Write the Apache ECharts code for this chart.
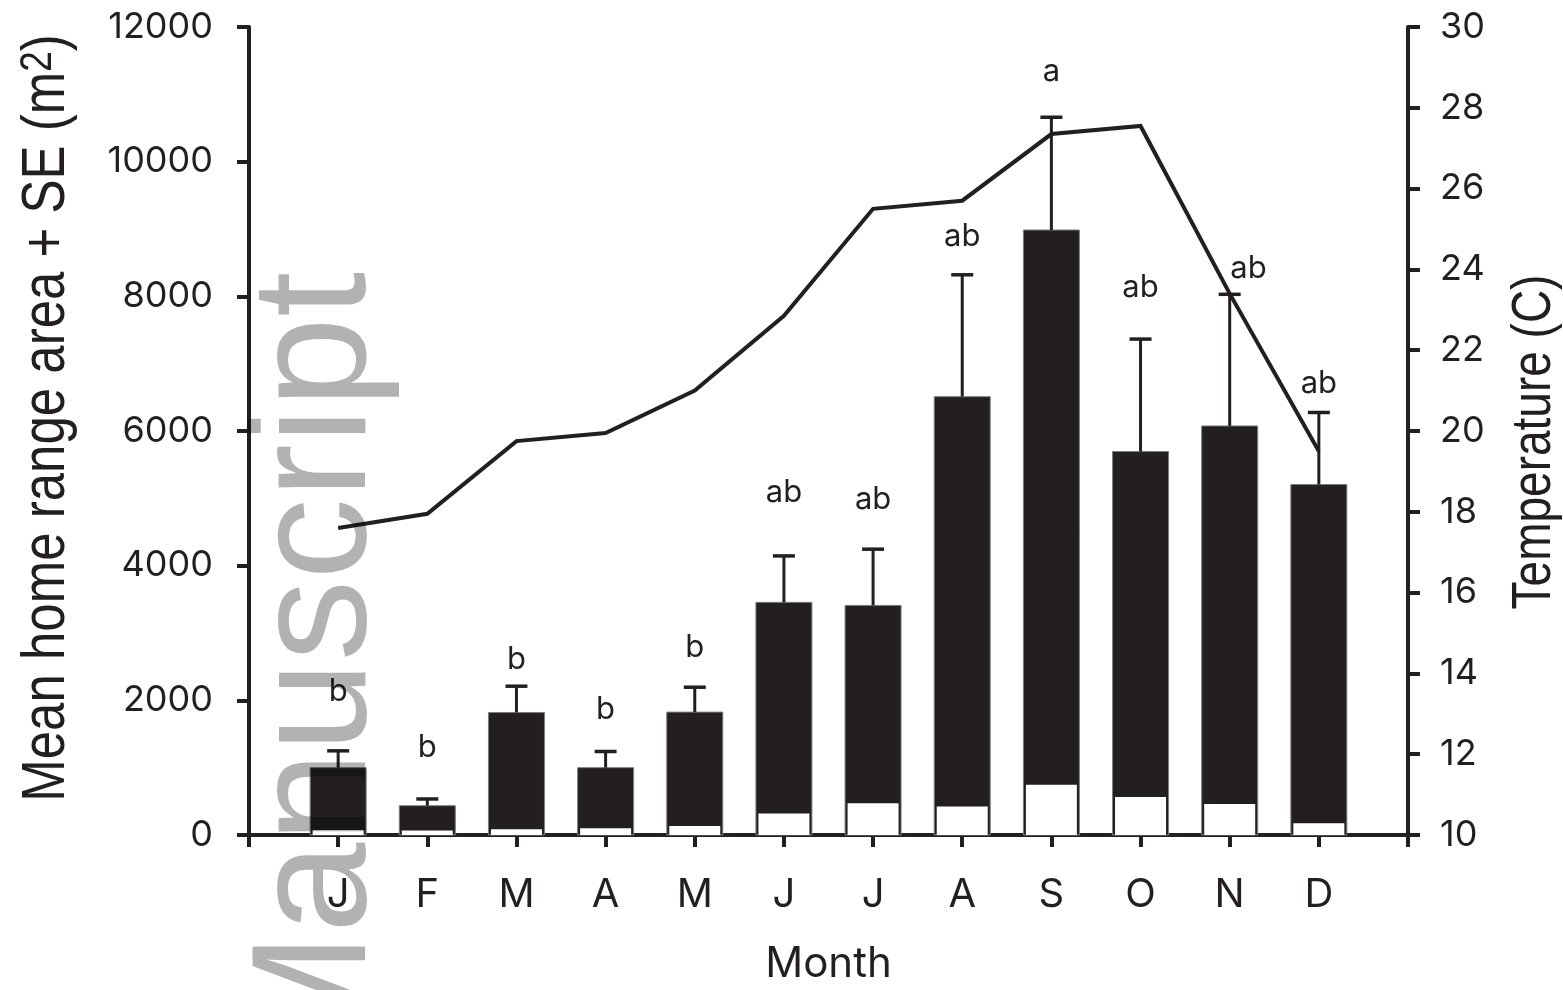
<!DOCTYPE html>
<html>
<head>
<meta charset="utf-8">
<script src="https://cdn.jsdelivr.net/npm/echarts@6/dist/echarts.min.js"></script>
<style>
  html, body { margin: 0; padding: 0; background: #ffffff; }
  #chart { width: 1563px; height: 990px; }
</style>
</head>
<body>
<div id="chart"></div>
<script>
// Monthly home range (m²) with SE, core area, and mean water temperature (°C)
const months = ['J', 'F', 'M', 'A', 'M', 'J', 'J', 'A', 'S', 'O', 'N', 'D'];
const meanArea = [1000, 435, 1820, 1000, 1825, 3455, 3410, 6510, 8985, 5695, 6075, 5205];
const seArea = [250, 100, 390, 240, 370, 690, 835, 1810, 1675, 1670, 1955, 1070];
const coreArea = [75, 65, 85, 100, 135, 320, 470, 425, 745, 565, 460, 175];
const temperature = [17.6, 17.95, 19.75, 19.95, 21.0, 22.85, 25.5, 25.7, 27.35, 27.55, 23.4, 19.5];
const groupLetters = ['b', 'b', 'b', 'b', 'b', 'ab', 'ab', 'ab', 'a', 'ab', 'ab', 'ab'];

// Axis ranges
const areaAxis = { min: 0, max: 12000, step: 2000 };
const tempAxis = { min: 10, max: 30, step: 2 };

// Where each significance letter sits (area units) and its sideways nudge (months)
const letterLevel = [2130, 1290, 2600, 1855, 2775, 5080, 4975, 8885, 11335, 8125, 8415, 6710];
const letterNudge = [0, 0, 0, 0, 0, 0, 0, 0, 0, 0, 0.21, 0];

const INK = '#231f20';
const LABEL_FONT = 'Inter, "Liberation Sans", Arial, sans-serif';
const TITLE_FONT = '"Liberation Sans", Arial, sans-serif';

const chart = echarts.init(document.getElementById('chart'), null, { renderer: 'canvas' });

const monthPoints = (arr) => arr.map((v, i) => [i + 1, v]);

const valueAxisBase = {
  type: 'value',
  axisLine: { show: true, onZero: false, lineStyle: { color: INK, width: 4 } },
  axisTick: { show: true, inside: false, length: 12, lineStyle: { color: INK, width: 4 } },
  splitLine: { show: false }
};

const option = {
  animation: false,
  backgroundColor: '#ffffff',
  grid: { left: 249, right: 155, top: 27, bottom: 155, containLabel: false, outerBoundsMode: 'none' },
  xAxis: {
    type: 'value',
    min: 0,
    max: months.length + 1,
    interval: 1,
    name: 'Month',
    nameLocation: 'middle',
    nameGap: 108,
    nameTextStyle: { color: INK, fontSize: 42, fontFamily: LABEL_FONT },
    axisLine: { show: true, onZero: false, lineStyle: { color: INK, width: 4 } },
    axisTick: { show: true, inside: false, length: 12, lineStyle: { color: INK, width: 4 } },
    axisLabel: {
      color: INK, fontSize: 40, fontFamily: LABEL_FONT, margin: 40,
      formatter: (v) => months[v - 1] || ''
    },
    splitLine: { show: false }
  },
  yAxis: [
    Object.assign({}, valueAxisBase, {
      position: 'left',
      min: areaAxis.min,
      max: areaAxis.max,
      interval: areaAxis.step,
      axisLabel: { color: INK, fontSize: 36, fontFamily: LABEL_FONT, margin: 36, formatter: (v) => String(v) }
    }),
    Object.assign({}, valueAxisBase, {
      position: 'right',
      min: tempAxis.min,
      max: tempAxis.max,
      interval: tempAxis.step,
      axisLabel: { color: INK, fontSize: 36, fontFamily: LABEL_FONT, margin: 32, formatter: (v) => String(v) }
    })
  ],
  series: [
    {
      // total home range bars
      name: 'Home range',
      type: 'custom',
      xAxisIndex: 0,
      yAxisIndex: 0,
      z: 2,
      renderItem: (params, api) => {
        const x = api.value(0);
        const top = api.coord([x, api.value(1)]);
        const base = api.coord([x, 0]);
        const w = 56;
        return {
          type: 'rect',
          shape: { x: top[0] - w / 2, y: top[1], width: w, height: base[1] - top[1] },
          style: { fill: INK, stroke: '#7d7d7d', lineWidth: 1 }
        };
      },
      data: monthPoints(meanArea)
    },
    {
      // core area inset bars
      name: 'Core area',
      type: 'custom',
      xAxisIndex: 0,
      yAxisIndex: 0,
      z: 3,
      renderItem: (params, api) => {
        const x = api.value(0);
        const top = api.coord([x, api.value(1)]);
        const base = api.coord([x, 0]);
        const w = 51;
        return {
          type: 'rect',
          shape: { x: top[0] - w / 2, y: top[1], width: w, height: base[1] - top[1] },
          style: { fill: '#ffffff' }
        };
      },
      data: monthPoints(coreArea)
    },
    {
      // + SE whiskers
      name: 'SE',
      type: 'custom',
      xAxisIndex: 0,
      yAxisIndex: 0,
      z: 4,
      renderItem: (params, api) => {
        const x = api.value(0);
        const mean = api.value(1);
        const se = api.value(2);
        const lo = api.coord([x, mean]);
        const hi = api.coord([x, mean + se]);
        const cap = 22;
        return {
          type: 'group',
          children: [
            { type: 'line', shape: { x1: lo[0], y1: lo[1], x2: hi[0], y2: hi[1] },
              style: { stroke: INK, lineWidth: 3 } },
            { type: 'line', shape: { x1: hi[0] - cap / 2, y1: hi[1], x2: hi[0] + cap / 2, y2: hi[1] },
              style: { stroke: INK, lineWidth: 3.5 } }
          ]
        };
      },
      data: meanArea.map((v, i) => [i + 1, v, seArea[i]])
    },
    {
      // significance letters
      name: 'Groups',
      type: 'custom',
      xAxisIndex: 0,
      yAxisIndex: 0,
      z: 5,
      renderItem: (params, api) => {
        const i = params.dataIndex;
        const p = api.coord([api.value(0) + letterNudge[i], api.value(1)]);
        return {
          type: 'text',
          x: p[0],
          y: p[1],
          style: {
            text: groupLetters[i],
            fill: INK,
            fontSize: 31,
            fontFamily: LABEL_FONT,
            align: 'center',
            verticalAlign: 'middle'
          }
        };
      },
      data: letterLevel.map((v, i) => [i + 1, v])
    },
    {
      name: 'Temperature',
      type: 'line',
      xAxisIndex: 0,
      yAxisIndex: 1,
      z: 6,
      symbol: 'none',
      lineStyle: { color: INK, width: 4, join: 'miter' },
      data: monthPoints(temperature)
    }
  ],
  graphic: [
    {
      // left axis title, set vertically
      type: 'text',
      x: 47,
      y: 418,
      rotation: Math.PI / 2,
      scaleY: 1.2,
      silent: true,
      style: {
        text: 'Mean home range area + SE (m{sup|2})',
        fill: INK,
        fontSize: 51,
        fontFamily: TITLE_FONT,
        align: 'center',
        verticalAlign: 'middle',
        rich: {
          sup: { fill: INK, fontSize: 37, fontFamily: TITLE_FONT, verticalAlign: 'top' }
        }
      }
    },
    {
      // right axis title, set vertically
      type: 'text',
      x: 1535,
      y: 442,
      rotation: Math.PI / 2,
      scaleY: 1.2,
      silent: true,
      style: {
        text: 'Temperature (C)',
        fill: INK,
        fontSize: 46,
        fontFamily: TITLE_FONT,
        align: 'center',
        verticalAlign: 'middle'
      }
    },
    {
      // "Manuscript" stamp over the plot
      type: 'text',
      x: 320,
      y: 1069,
      rotation: Math.PI / 2,
      z: 100,
      silent: true,
      style: {
        text: 'Manuscript',
        fill: 'rgba(0,0,0,0.3)',
        fontSize: 163,
        fontFamily: '"Liberation Sans", Arial, sans-serif',
        align: 'left',
        verticalAlign: 'middle'
      }
    }
  ]
};

chart.setOption(option);
</script>
</body>
</html>
